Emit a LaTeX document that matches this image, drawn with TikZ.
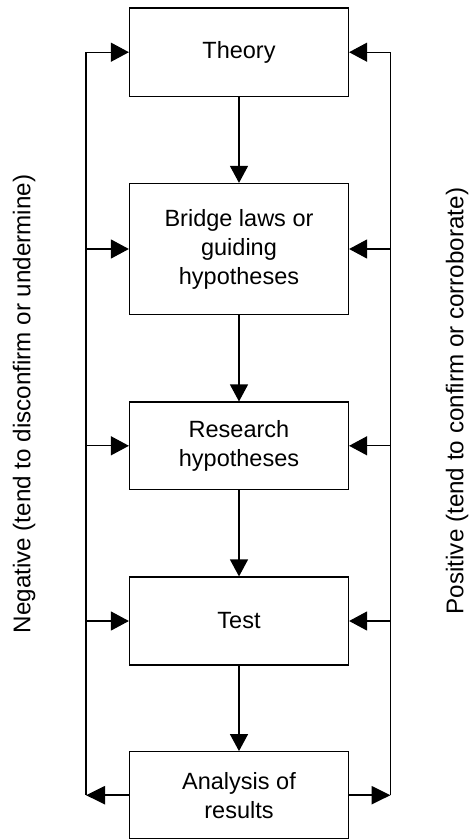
\documentclass[tikz,border=0pt]{standalone}
\usepackage{fontspec}
\setmainfont{Liberation Sans}
\usetikzlibrary{arrows.meta}
\begin{document}
\begin{tikzpicture}[x=1pt,y=-1pt,
  box/.style={draw, line width=1.2pt, minimum width=219pt, align=center,
    inner sep=0pt, font=\fontsize{23.5}{29}\selectfont},
  flow/.style={line width=1.2pt, -{Triangle[length=17pt,width=18pt]}},
  back/.style={line width=1.2pt, -{Triangle[length=18pt,width=19pt]}},
  outcome/.style={line width=2.4pt, -{Triangle[length=19pt,width=18pt]}},
  side/.style={rotate=90, font=\fontsize{24.2}{29}\selectfont}]
\useasboundingbox (0,0) rectangle (470,839);

% main chain of boxes
\node[box, minimum height=88.5pt] (th) at (239,52.2) {Theory};
\node[box, minimum height=131pt] (br) at (239,249) {Bridge laws or\\guiding\\hypotheses};
\node[box, minimum height=87.5pt] (rh) at (239,445.8) {Research\\hypotheses};
\node[box, minimum height=88pt] (te) at (239,621) {Test};
\node[box, minimum height=87pt] (an) at (239,795.2) {Analysis of\\results};

% feedback rails
\coordinate (lx) at (86,0);
\coordinate (rx) at (390.5,0);

% downward flow
\draw[flow] (th) -- (br);
\draw[flow] (br) -- (rh);
\draw[flow] (rh) -- (te);
\draw[flow] (te) -- (an);

% results fed out to both rails
\draw[outcome] (an.west) -- (lx |- an.west);
\draw[outcome] (an.east) -- (rx |- an.east);

% rails running up
\draw[line width=1.2pt] (lx |- an.west) -- (lx |- th.west);
\draw[line width=1.2pt] (rx |- an.east) -- (rx |- th.east);

% rails feeding each earlier stage
\foreach \n in {th,br,rh,te}{
  \draw[back] (lx |- \n.west) -- (\n.west);
  \draw[back] (rx |- \n.east) -- (\n.east);
}

% rail labels
\node[side] (neg) at (24,404) {Negative (tend to disconfirm or undermine)};
\node[side] (pos) at (457,401) {Positive (tend to confirm or corroborate)};
\end{tikzpicture}
\end{document}
